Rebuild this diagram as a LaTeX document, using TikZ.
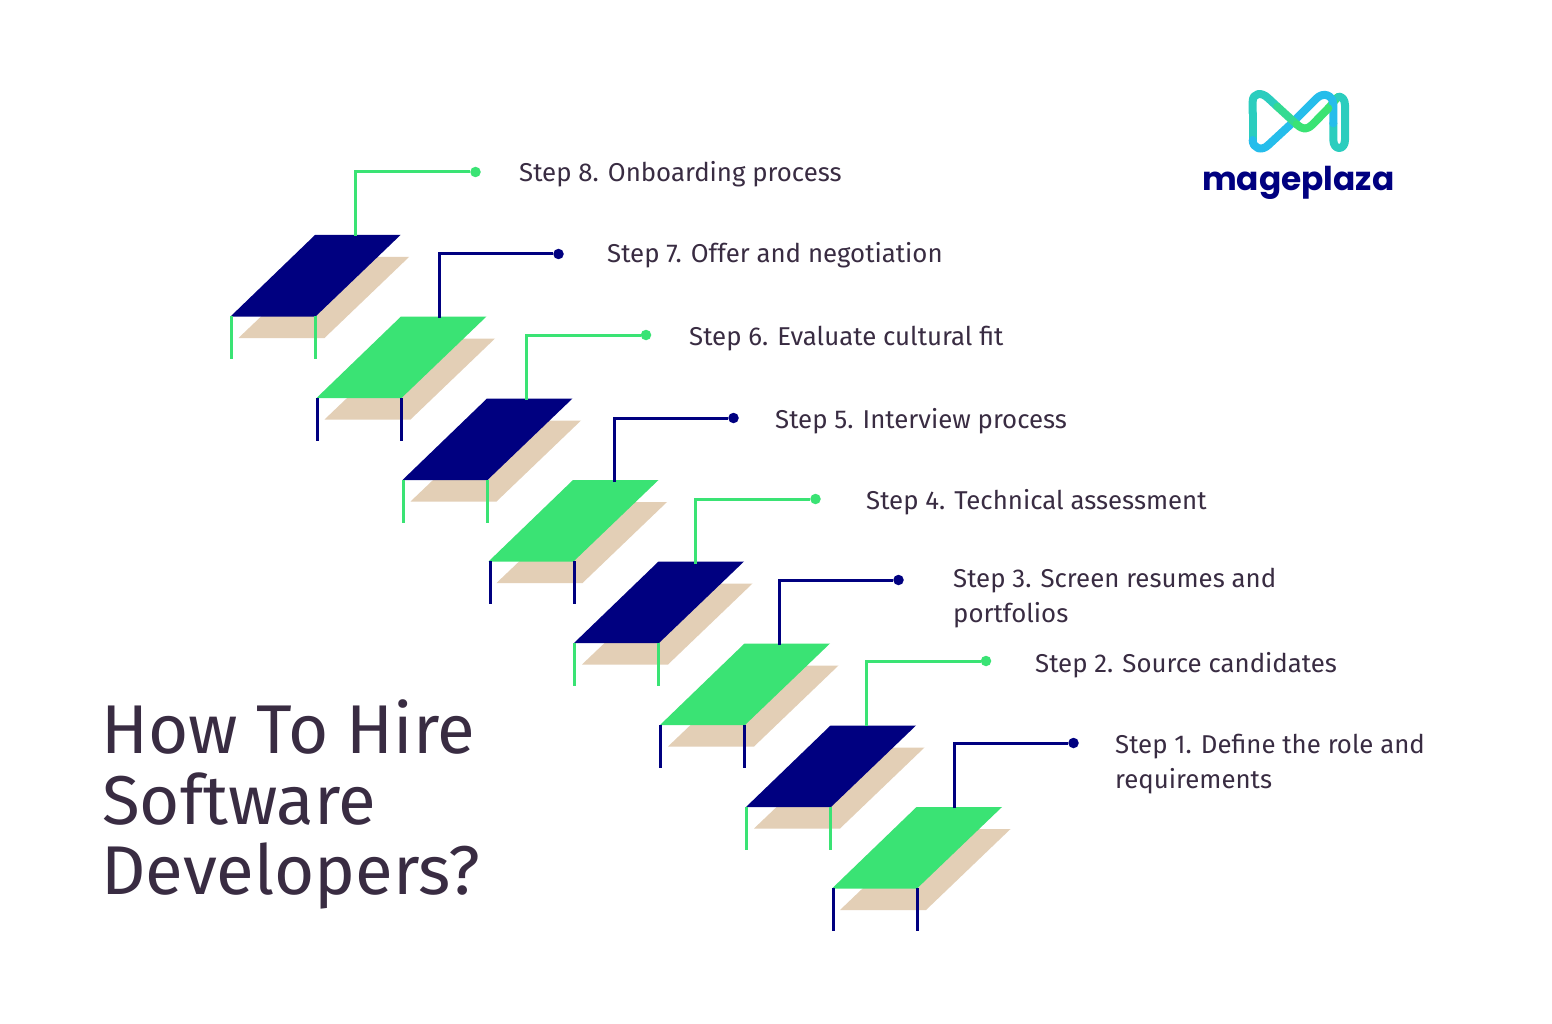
\documentclass[tikz,border=0pt]{standalone}
\usepackage{fontspec}
\setmainfont{Fira Sans}
\newfontfamily\logofont{Poppins}
\definecolor{navy}{HTML}{000080}
\definecolor{mint}{HTML}{3AE374}
\definecolor{sand}{HTML}{E3CFB6}
\definecolor{inkc}{HTML}{392C42}
\definecolor{lteal}{HTML}{2BCDBE}
\definecolor{lblue}{HTML}{26BDEB}
\tikzset{
  x=1pt,y=-1pt,
  steplabel/.style={anchor=base west,inner sep=0pt,text=inkc,font=\fontsize{25.8}{26}\selectfont,align=left},
  titlelabel/.style={anchor=base west,inner sep=0pt,text=inkc,font=\fontsize{69}{69}\selectfont},
  tiedot/.style={circle,fill=#1,inner sep=0pt,minimum size=10.5pt},
  tieline/.style={draw=#1,line width=3pt},
  logoline/.style={draw=#1,line width=8pt,line cap=round,line join=round},
}
% #1 plate left x, #2 plate bottom y, #3 plate colour, #4 leg colour, #5 left leg x
\newcommand{\stair}[5]{%
  \fill[sand] (#1+8,#2+21.5) -- (#1+94,#2+21.5) -- (#1+178.5,#2-59.5) -- (#1+93,#2-59.5) -- cycle;
  \fill[#3] (#1,#2) -- (#1+85,#2) -- (#1+170,#2-81.5) -- (#1+84.5,#2-81.5) -- cycle;
  \draw[tieline=#4] (#5,#2-0.5) -- (#5,#2+42.5);
  \draw[tieline=#4] (#5+84,#2-0.5) -- (#5+84,#2+42.5);
}
\begin{document}
\begin{tikzpicture}
\useasboundingbox (0,0) rectangle (1552,1024);
\fill[white] (0,0) rectangle (1552,1024);
\stair{230.5}{316.5}{navy}{mint}{231}
\stair{316.5}{398}{mint}{navy}{317}
\stair{402.5}{480}{navy}{mint}{403.5}
\stair{488.5}{561.5}{mint}{navy}{490}
\stair{574}{643}{navy}{mint}{574}
\stair{660}{725}{mint}{navy}{660}
\stair{746}{807}{navy}{mint}{746}
\stair{832}{888.5}{mint}{navy}{833}
\coordinate (b8) at (355.5,236); \node[tiedot=mint] (d8) at (475.5,172) {};
\coordinate (b7) at (439,318);   \node[tiedot=navy] (d7) at (558.5,254) {};
\coordinate (b6) at (526.5,400); \node[tiedot=mint] (d6) at (646,335) {};
\coordinate (b5) at (614,482);   \node[tiedot=navy] (d5) at (733.5,418) {};
\coordinate (b4) at (695.5,564); \node[tiedot=mint] (d4) at (815.5,499) {};
\coordinate (b3) at (779,645);   \node[tiedot=navy] (d3) at (898.5,580) {};
\coordinate (b2) at (866,726);   \node[tiedot=mint] (d2) at (986,661) {};
\coordinate (b1) at (954,808);   \node[tiedot=navy] (d1) at (1073.5,743) {};
\draw[tieline=mint] (b8) |- (d8);
\draw[tieline=navy] (b7) |- (d7);
\draw[tieline=mint] (b6) |- (d6);
\draw[tieline=navy] (b5) |- (d5);
\draw[tieline=mint] (b4) |- (d4);
\draw[tieline=navy] (b3) |- (d3);
\draw[tieline=mint] (b2) |- (d2);
\draw[tieline=navy] (b1) |- (d1);
\node[steplabel] (t8) at (519,182) {Step 8. Onboarding process};
\node[steplabel] (t7) at (607,262) {Step 7. Offer and negotiation};
\node[steplabel] (t6) at (689,345) {Step 6. Evaluate cultural fit};
\node[steplabel] (t5) at (775,428) {Step 5. Interview process};
\node[steplabel] (t4) at (866,509) {Step 4. Technical assessment};
\node[steplabel] (t3a) at (953,587) {Step 3. Screen resumes and};
\node[steplabel] (t3b) at (953,622) {portfolios};
\node[steplabel] (t2) at (1035,672) {Step 2. Source candidates};
\node[steplabel] (t1a) at (1115,753) {Step 1. Define the role and};
\node[steplabel] (t1b) at (1115,788) {requirements};
\node[titlelabel] (h1) at (101,753) {How To Hire};
\node[titlelabel] (h2) at (102,824) {Software};
\node[titlelabel] (h3) at (101,894) {Developers?};
\begin{scope}[shift={(1190,80)},x=0.3333pt,y=-0.3333pt]
\draw[logoline=mint] (415,85) .. controls (430,70) and (440,50) .. (447,50);
\draw[logoline=lteal] (430,130) -- (430,180) .. controls (430,212) and (465,212) .. (465,180) -- (465,75) .. controls (465,58) and (455,50) .. (447,50);
\draw[logoline=lteal] (188,100) -- (188,180);
\draw[logoline=lblue] (188,180) .. controls (188,205) and (215,215) .. (235,195) -- (300,135);
\draw[logoline=lblue] (300,135) -- (380,55) .. controls (400,35) and (430,45) .. (430,75) -- (430,130);
\draw[logoline=lteal] (188,100) -- (188,65) .. controls (188,38) and (215,35) .. (235,55) -- (262,80);
\draw[logoline=lteal!40!mint] (262,80) -- (320,133);
\draw[logoline=mint] (320,133) .. controls (340,150) and (350,150) .. (368,133) -- (415,85);
\node[anchor=base,inner sep=0pt,text=navy,font=\logofont\fontsize{32.8}{32.8}\selectfont\bfseries] (logo) at (325,332) {mageplaza};
\end{scope}
\end{tikzpicture}
\end{document}
